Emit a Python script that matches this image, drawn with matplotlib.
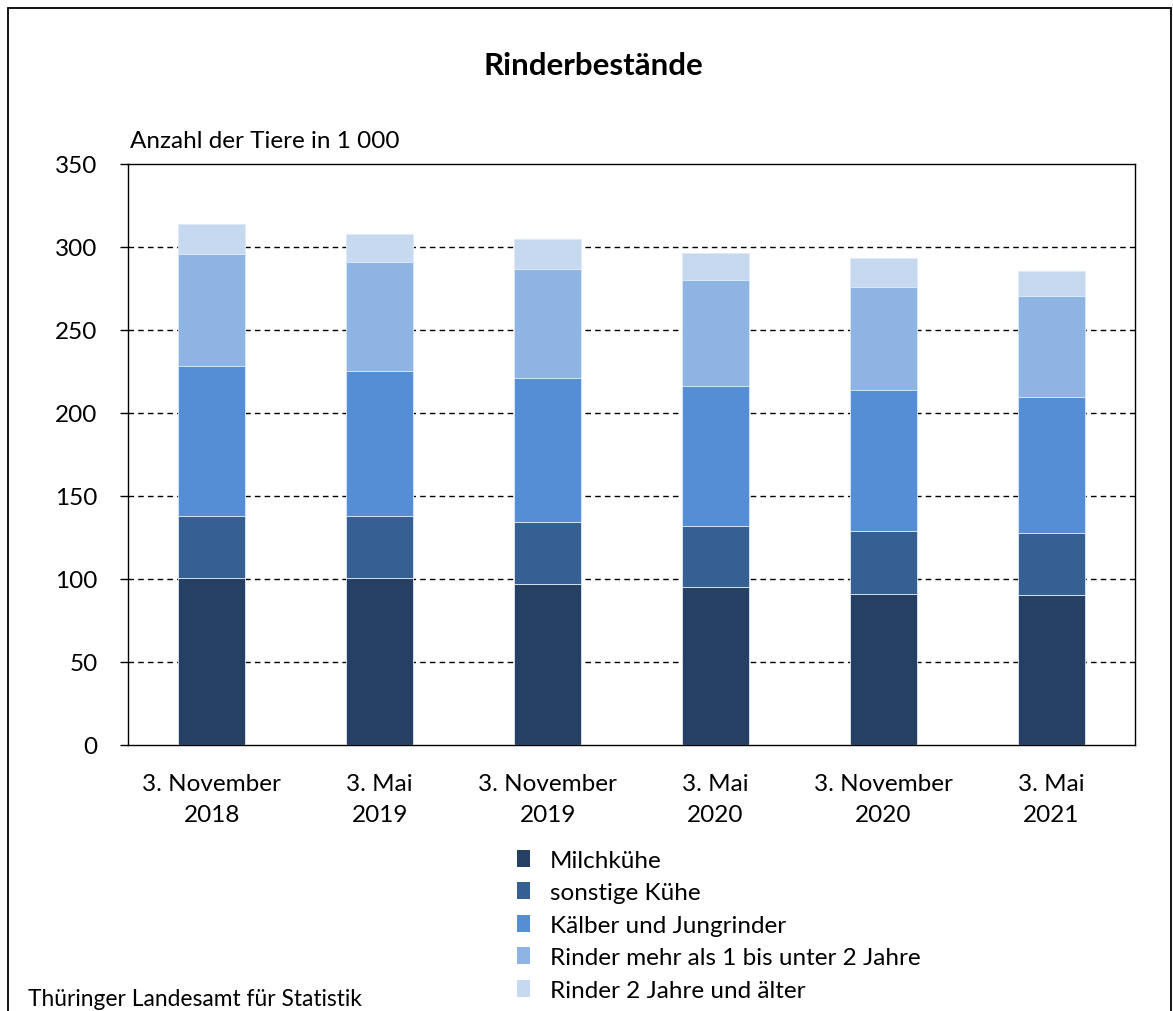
import matplotlib
matplotlib.use("Agg")
import matplotlib.pyplot as plt
from matplotlib.patches import Rectangle, Patch
import numpy as np

plt.rcParams['font.family'] = ['Lato', 'DejaVu Sans']

categories = ["3. November\n2018", "3. Mai\n2019", "3. November\n2019",
              "3. Mai\n2020", "3. November\n2020", "3. Mai\n2021"]
series_names = ["Milchkühe", "sonstige Kühe", "Kälber und Jungrinder",
                "Rinder mehr als 1 bis unter 2 Jahre", "Rinder 2 Jahre und älter"]
milchkuehe = [100.4, 100.8, 97.2, 95.4, 91.0, 90.2]
sonstige_kuehe = [37.5, 37.1, 36.9, 36.7, 38.1, 37.7]
kaelber = [90.3, 87.2, 86.7, 84.0, 85.0, 81.6]
rinder_1_2 = [67.3, 65.6, 66.2, 64.0, 62.0, 60.8]
rinder_2plus = [18.5, 16.9, 18.0, 16.5, 17.5, 15.2]
colors = ["#264063", "#366092", "#558ED5", "#8EB4E3", "#C6D9F1"]

W, H = 1173, 1012
FS = 17.5
fig = plt.figure(figsize=(W / 100, H / 100), dpi=100)

# outer frame
fig.patches.append(Rectangle((8 / W, -0.01), (1171 - 8) / W, 1 - 9 / H + 0.01,
                             transform=fig.transFigure, fill=False,
                             edgecolor="black", linewidth=1.3))

ax = fig.add_axes([128 / W, 1 - 746 / H, (1135 - 128) / W, (746 - 165) / H])

x = np.arange(len(categories))
bottom = np.zeros(len(categories))
series = [milchkuehe, sonstige_kuehe, kaelber, rinder_1_2, rinder_2plus]
for vals, col, name in zip(series, colors, series_names):
    ax.bar(x, vals, width=0.4, bottom=bottom, color=col, edgecolor="#dfe8f5",
           linewidth=0.6, label=name, zorder=3)
    bottom += np.array(vals)

ax.set_xlim(-0.5, 5.5)
ax.set_ylim(0, 350)
ax.set_yticks(np.arange(0, 351, 50))
ax.tick_params(axis="y", labelsize=FS, length=5.8, width=1, direction="out", pad=16)
ax.tick_params(axis="x", labelsize=FS, length=0, pad=20)
ax.set_xticks(x)
ax.set_xticklabels(categories, linespacing=1.6)
for y in range(50, 350, 50):
    ax.axhline(y, color="black", linestyle=(0, (4, 3)), linewidth=1, zorder=1)
for s in ax.spines.values():
    s.set_linewidth(1)
    s.set_color("black")

fig.text(593 / W, 1 - 66 / H, "Rinderbestände", ha="center", va="center",
         fontsize=22.5, fontweight="bold")
fig.text(130 / W, 1 - 142 / H, "Anzahl der Tiere in 1 000", ha="left",
         va="center", fontsize=FS)
fig.text(28 / W, 1 - 1010 / H, "Thüringer Landesamt für Statistik", ha="left",
         va="bottom", fontsize=16.4)

handles = [Patch(facecolor=c, edgecolor="none") for c in colors]
fig.legend(handles, series_names, loc="upper left",
           bbox_to_anchor=(517 / W, 1 - 851 / H), frameon=False, fontsize=FS,
           handlelength=0.55, handleheight=0.7, handletextpad=0.8,
           labelspacing=0.47, borderpad=0, borderaxespad=0)

fig.savefig("out.png", dpi=100)
